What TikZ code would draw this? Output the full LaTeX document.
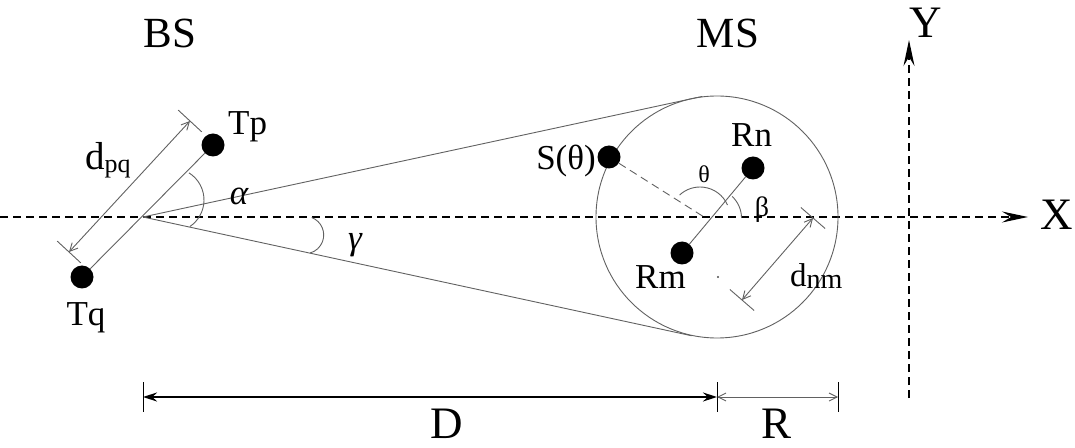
\documentclass[tikz,border=0pt]{standalone}
\usepackage{fontspec}
\setmainfont{Liberation Serif}
\usetikzlibrary{arrows.meta,calc}
\begin{document}
\begin{tikzpicture}[x=1pt,y=1pt,
  axisline/.style={draw=black, line width=1.3pt, dash pattern=on 8pt off 5pt},
  gline/.style={draw=black!62, line width=0.9pt},
  dline/.style={draw=black!62, line width=0.9pt, dash pattern=on 8pt off 5pt},
  dotnode/.style={circle, fill=black, minimum size=23pt, inner sep=0pt},
  barbs/.style={{Straight Barb[length=8pt,width=8pt]}-{Straight Barb[length=8pt,width=8pt]}},
  axtip/.style={-{Stealth[length=26pt,width=11pt,inset=9pt]}},
  lblL/.style={inner sep=0pt, font=\fontsize{43}{50}\selectfont},
  lblX/.style={inner sep=0pt, font=\fontsize{45}{52}\selectfont},
  lblM/.style={inner sep=0pt, font=\fontsize{35}{40}\selectfont},
  lblS/.style={inner sep=0pt, font=\fontsize{24}{28}\selectfont},
  lblB/.style={inner sep=0pt, font=\fontsize{28}{32}\selectfont}]
\useasboundingbox (0,0) rectangle (1075,447);

% axes
\coordinate (axL) at (0,230);
\coordinate (axR) at (1028,230);
\coordinate (yB) at (909,49);
\coordinate (yT) at (909,407);
\draw[axisline, axtip] (axL) -- (axR);
\draw[axisline, axtip] (yB) -- (yT);
\node[lblX] (Xl) at (1057,232) {X};
\node[lblX] (Yl) at (926,424) {Y};

% headings
\node[lblL] (BSl) at (170,414) {BS};
\node[lblL] (MSl) at (728,414) {MS};

% MS circle and tangents
\coordinate (O) at (143,230);
\node[circle, draw=black!62, line width=0.9pt, minimum size=242pt, inner sep=0pt] (ms) at (717,230) {};
\draw[gline] (O) -- (ms.97);
\draw[gline] (O) -- (ms.258);

% BS antenna pair
\node[dotnode] (Tp) at (213,302) {};
\node[dotnode] (Tq) at (82,170) {};
\draw[gline] (Tq) -- (Tp);
\node[lblM, anchor=base west] (Tpl) at (228,312) {Tp};
\node[lblM, anchor=north] (Tql) at (86,145) {Tq};

% d_pq dimension
\coordinate (pqA) at (69,195);
\coordinate (pqB) at (190,326);
\draw[gline, barbs] (pqA) -- (pqB);
\draw[gline] ($(pqA)!16pt!90:(pqB)$) -- ($(pqA)!16pt!-90:(pqB)$);
\draw[gline] ($(pqB)!16pt!90:(pqA)$) -- ($(pqB)!16pt!-90:(pqA)$);
\node[inner sep=0pt, anchor=base west, font=\fontsize{39}{44}\selectfont] (dpq) at (85,277)
  {d\raisebox{-3pt}{\fontsize{26}{30}\selectfont pq}};

% alpha and gamma arcs
\coordinate (alC) at (172,247);
\draw[gline] (alC) ++(58:32) arc[start angle=58, end angle=-56, radius=32];
\node[lblM, anchor=base] (al) at (239,242) {\itshape α};
\coordinate (gaC) at (305,212);
\draw[gline] (gaC) ++(69:18.7) arc[start angle=69, end angle=-74, radius=18.7];
\node[lblM, anchor=base] (ga) at (355,197) {\itshape γ};

% S(theta)
\node[dotnode] (S) at (609,290) {};
\coordinate (Sc) at (704,230);
\draw[dline] (S) -- (Sc);
\node[lblM, anchor=base east] (Sl) at (596,277) {S(θ)};

% Rm Rn
\node[dotnode] (Rm) at (682,194) {};
\node[dotnode] (Rn) at (753,279) {};
\draw[gline] (Rm) -- (Rn);
\node[lblM, anchor=base west] (Rnl) at (731,300.3) {Rn};
\node[lblM, anchor=base west] (Rml) at (635,158.7) {Rm};
\fill[black!70] (718,170) circle[radius=1.1];

% theta and beta arcs
\coordinate (thC) at (700,230);
\draw[gline] (thC) ++(23.5:30) arc[start angle=23.5, end angle=133, radius=30];
\node[lblS] (thl) at (704,272.5) {θ};
\coordinate (beC) at (712,229);
\draw[gline] (beC) ++(0:29.5) arc[start angle=0, end angle=47, radius=29.5];
\node[lblB] (bel) at (762,237) {β};

% d_nm dimension
\coordinate (nmA) at (813,229);
\coordinate (nmB) at (742,147);
\draw[gline, barbs] (nmA) -- (nmB);
\draw[gline] ($(nmA)!16pt!90:(nmB)$) -- ($(nmA)!16pt!-90:(nmB)$);
\draw[gline] ($(nmB)!16pt!90:(nmA)$) -- ($(nmB)!16pt!-90:(nmA)$);
\node[inner sep=0pt, anchor=base west, font=\fontsize{33}{38}\selectfont] (dnm) at (790,160.3)
  {d\raisebox{-2pt}{\fontsize{28}{32}\selectfont nm}};

% bottom dimensions D and R
\coordinate (D1) at (143,50);
\coordinate (D2) at (717,50);
\coordinate (D3) at (838,50);
\draw[black, line width=1pt] ($(D1)+(0,15)$) -- ($(D1)+(0,-15)$);
\draw[black, line width=1pt] ($(D2)+(0,15)$) -- ($(D2)+(0,-15)$);
\draw[black, line width=1pt] ($(D3)+(0,15)$) -- ($(D3)+(0,-15)$);
\draw[black, line width=1.4pt, {Stealth[length=14pt,width=9pt]}-{Stealth[length=14pt,width=9pt]}] (D1) -- (D2);
\draw[gline, barbs] (D2) -- (D3);
\node[lblX] (Dl) at (447,23) {D};
\node[lblX] (Rl) at (776,23) {R};
\end{tikzpicture}
\end{document}
